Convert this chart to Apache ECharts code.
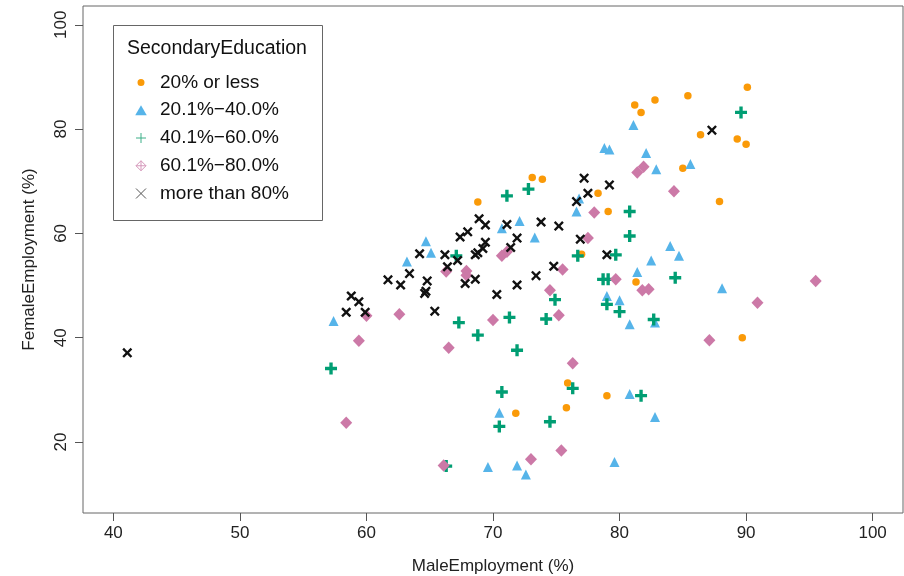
<!DOCTYPE html>
<html>
<head>
<meta charset="utf-8">
<script src="https://cdn.jsdelivr.net/npm/echarts@6/dist/echarts.min.js"></script>
<style>html,body{margin:0;padding:0;background:#fff}#chart{width:904px;height:576px}</style>
</head>
<body>
<div id="chart"></div>
<script>
// ---- data (MaleEmployment %, FemaleEmployment %) ----
const groupNames = ['20% or less', '20.1%\u221240.0%', '40.1%\u221260.0%', '60.1%\u221280.0%', 'more than 80%'];
const xTicks = [40, 50, 60, 70, 80, 90, 100];
const yTicks = [20, 40, 60, 80, 100];

const eduUpTo20 = [[68.8,66.0],[73.1,70.7],[73.9,70.4],[77.0,56.0],[78.3,67.7],[79.1,64.2],[81.3,50.7],[85.0,72.5],[87.9,66.1],[81.2,84.6],[81.7,83.2],[82.8,85.6],[85.4,86.4],[86.4,78.9],[89.3,78.1],[90.0,77.1],[90.1,88.0],[89.7,40.0],[75.9,31.3],[79.0,28.9],[75.8,26.6],[71.8,25.5]];
const edu20to40 = [[57.4,43.2],[63.2,54.6],[64.7,58.5],[65.1,56.3],[70.7,61.0],[72.1,62.4],[73.3,59.2],[76.6,64.2],[76.8,66.7],[78.8,76.4],[79.2,76.1],[81.1,80.8],[82.1,75.4],[82.9,72.3],[85.6,73.3],[84.0,57.6],[84.7,55.7],[82.5,54.8],[81.4,52.6],[88.1,49.5],[79.0,48.0],[80.0,47.2],[80.8,42.6],[82.8,42.9],[70.5,25.6],[80.8,29.2],[82.8,24.8],[69.6,15.2],[71.9,15.5],[72.6,13.8],[79.6,16.2]];
const edu40to60 = [[57.2,34.1],[66.3,15.4],[67.1,55.7],[67.3,42.9],[68.8,40.5],[70.5,23.0],[70.7,29.6],[71.1,67.2],[71.3,43.9],[71.9,37.6],[72.8,68.5],[74.2,43.6],[74.5,23.9],[74.9,47.3],[76.3,30.3],[76.7,55.7],[78.7,51.2],[79.1,51.2],[79.0,46.4],[79.7,55.9],[80.0,45.0],[80.8,64.2],[80.8,59.5],[81.7,28.9],[82.7,43.5],[84.4,51.5],[89.6,83.2]];
const edu60to80 = [[58.4,23.7],[59.4,39.4],[60.0,44.2],[62.6,44.5],[66.3,52.7],[66.5,38.1],[66.1,15.5],[67.9,52.8],[67.9,52.0],[70.0,43.4],[70.7,55.7],[71.1,56.5],[73.0,16.7],[74.5,49.1],[75.2,44.3],[75.5,53.1],[75.4,18.4],[76.3,35.1],[77.5,59.1],[78.0,64.0],[79.7,51.2],[81.4,71.7],[81.9,72.8],[81.8,49.1],[82.3,49.3],[84.3,68.1],[87.1,39.5],[90.9,46.7],[95.5,50.9]];
const eduOver80 = [[41.1,37.1],[58.4,44.9],[58.8,48.0],[59.4,46.9],[59.9,44.9],[61.7,51.1],[62.7,50.1],[63.4,52.3],[64.2,56.1],[64.8,50.9],[64.7,48.9],[64.6,48.5],[65.4,45.1],[66.2,55.9],[66.4,53.6],[67.2,54.8],[67.4,59.3],[68.0,60.3],[67.8,50.4],[68.6,51.2],[68.6,55.9],[68.8,56.3],[68.9,62.8],[69.4,61.6],[69.4,58.3],[69.2,57.1],[70.3,48.3],[71.1,61.7],[71.4,57.3],[71.9,59.1],[71.9,50.1],[73.4,51.9],[73.8,62.2],[74.8,53.7],[75.2,61.4],[76.6,66.1],[77.5,67.7],[77.2,70.6],[79.2,69.3],[76.9,58.9],[79.0,55.9],[87.3,79.8]];

const groupData = [eduUpTo20, edu20to40, edu40to60, edu60to80, eduOver80];
const groupColors = ['#FA9A08', '#56B4E9', '#009E73', '#CC79A7', '#111111'];

// ---- styles ----
const FONT = '"Liberation Sans", Arial, sans-serif';
const PLUS = 'path://M3.6,0 H6.4 V3.6 H10 V6.4 H6.4 V10 H3.6 V6.4 H0 V3.6 H3.6 Z';
const CROSS = 'path://M0,1.7 L1.7,0 L5,3.3 L8.3,0 L10,1.7 L6.7,5 L10,8.3 L8.3,10 L5,6.7 L1.7,10 L0,8.3 L3.3,5 Z';
const TRI = 'path://M5,0 L10,8.66 L0,8.66 Z';
const symbols = ['circle', TRI, PLUS, 'diamond', CROSS];
const sizes = [7.5, 10, 12, [12, 12.5], 10];

const legendIcons = [
  'circle',
  'path://M5,0 L10,8.66 L0,8.66 Z',
  'path://M5,0 L5,10 M0,5 L10,5',
  'path://M5,0 L10,5 L5,10 L0,5 Z M5,0 L5,10 M0,5 L10,5',
  'path://M0,0 L10,10 M10,0 L0,10'
];
const legendStyles = [
  {color: '#FA9A08', borderColor: '#fff', borderWidth: 3},
  {color: '#56B4E9', borderWidth: 0},
  {color: 'transparent', borderColor: '#3DAF88', borderWidth: 1},
  {color: 'transparent', borderColor: '#D597BA', borderWidth: 1},
  {color: 'transparent', borderColor: '#555', borderWidth: 1}
];

const chart = echarts.init(document.getElementById('chart'), null, {renderer: 'canvas'});
chart.setOption({
  animation: false,
  backgroundColor: '#fff',
  textStyle: {fontFamily: FONT},
  grid: {left: 83, right: 1, top: 6, bottom: 63, show: true, borderColor: '#666', borderWidth: 1, backgroundColor: 'transparent', containLabel: false, outerBoundsMode: 'none'},
  xAxis: {
    type: 'value', min: 37.6, max: 102.4,
    axisLine: {show: false},
    axisTick: {show: true, length: 8, customValues: xTicks, lineStyle: {color: '#555'}},
    axisLabel: {customValues: xTicks, fontSize: 17, color: '#222', margin: 12, fontFamily: FONT},
    splitLine: {show: false},
    name: 'MaleEmployment (%)', nameLocation: 'middle', nameGap: 45,
    nameTextStyle: {fontSize: 17, color: '#222', fontFamily: FONT}
  },
  yAxis: {
    type: 'value', min: 6.4, max: 103.6,
    axisLine: {show: false},
    axisTick: {show: true, length: 8, customValues: yTicks, lineStyle: {color: '#555'}},
    axisLabel: {customValues: yTicks, fontSize: 17, color: '#222', margin: 13, rotate: 90, fontFamily: FONT},
    splitLine: {show: false},
    name: 'FemaleEmployment (%)', nameLocation: 'middle', nameGap: 45,
    nameTextStyle: {fontSize: 17, color: '#222', fontFamily: FONT}
  },
  legend: {
    data: groupNames.map((n, i) => ({name: n, icon: legendIcons[i], itemStyle: legendStyles[i]})),
    orient: 'vertical', left: 134.5, top: 73, padding: 0,
    itemWidth: 28, itemHeight: 10, itemGap: 8.75, symbolKeepAspect: true,
    textStyle: {fontSize: 19, color: '#111', lineHeight: 19, fontFamily: FONT},
    selectedMode: false
  },
  graphic: [
    {type: 'rect', left: 113, top: 25, shape: {width: 209, height: 195}, style: {fill: 'transparent', stroke: '#666', lineWidth: 1}, z: 10},
    {type: 'text', left: 127, top: 39, style: {text: 'SecondaryEducation', fontSize: 19.5, fill: '#111', fontFamily: FONT}, z: 10}
  ],
  series: groupNames.map((n, i) => ({
    name: n, type: 'scatter', data: groupData[i],
    symbol: symbols[i], symbolSize: sizes[i],
    itemStyle: {color: groupColors[i], opacity: 1},
    emphasis: {disabled: true}
  }))
});
</script>
</body>
</html>
